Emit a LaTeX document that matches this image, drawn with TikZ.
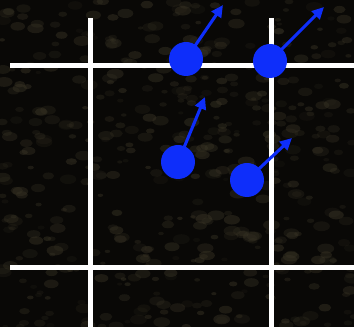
\documentclass[tikz,border=0pt]{standalone}
\usetikzlibrary{arrows.meta, positioning}
\definecolor{ground}{RGB}{9,8,6}
\definecolor{stone}{RGB}{58,53,38}
\definecolor{puck}{RGB}{14,46,250}
\begin{document}
\begin{tikzpicture}[x=0.75pt, y=-0.75pt,
  gridline/.style={white, line width=3.75pt},
  dot/.style={circle, fill=puck, minimum size=25.5pt, inner sep=0pt},
  vel/.style={puck, line width=2.3pt, -{Triangle[length=9pt, width=8.5pt]}}]

\useasboundingbox (0,0) rectangle (354,327);

% ground texture
\fill[ground] (0,0) rectangle (354,327);
\begin{scope}
\clip (0,0) rectangle (354,327);
\pgfmathsetseed{42}
\foreach \i in {1,...,520}{
  \pgfmathsetmacro{\bx}{rnd*354}
  \pgfmathsetmacro{\by}{rnd*327}
  \pgfmathsetmacro{\br}{1.5+rnd*3.5}
  \pgfmathsetmacro{\bo}{0.12+rnd*0.35}
  \fill[stone, opacity=\bo] (\bx,\by) ellipse ({1.7*\br} and \br);
}
\end{scope}

% grid
\draw[gridline] (90,18) -- (90,327);
\draw[gridline] (271,18) -- (271,327);
\draw[gridline] (10,66) -- (354,66);
\draw[gridline] (10,268) -- (354,268);

% pucks and their velocities
\coordinate (ta) at (223,5);
\coordinate (tb) at (324,7);
\coordinate (tc) at (205,97);
\coordinate (td) at (292,138);

\node[dot] (a) at (186,59) {};
\node[dot] (b) at (270,61) {};
\node[dot] (c) at (178,162) {};
\node[dot] (d) at (247,180) {};

\draw[vel] (a.center) -- (ta);
\draw[vel] (b.center) -- (tb);
\draw[vel] (c.center) -- (tc);
\draw[vel] (d.center) -- (td);

\end{tikzpicture}
\end{document}
